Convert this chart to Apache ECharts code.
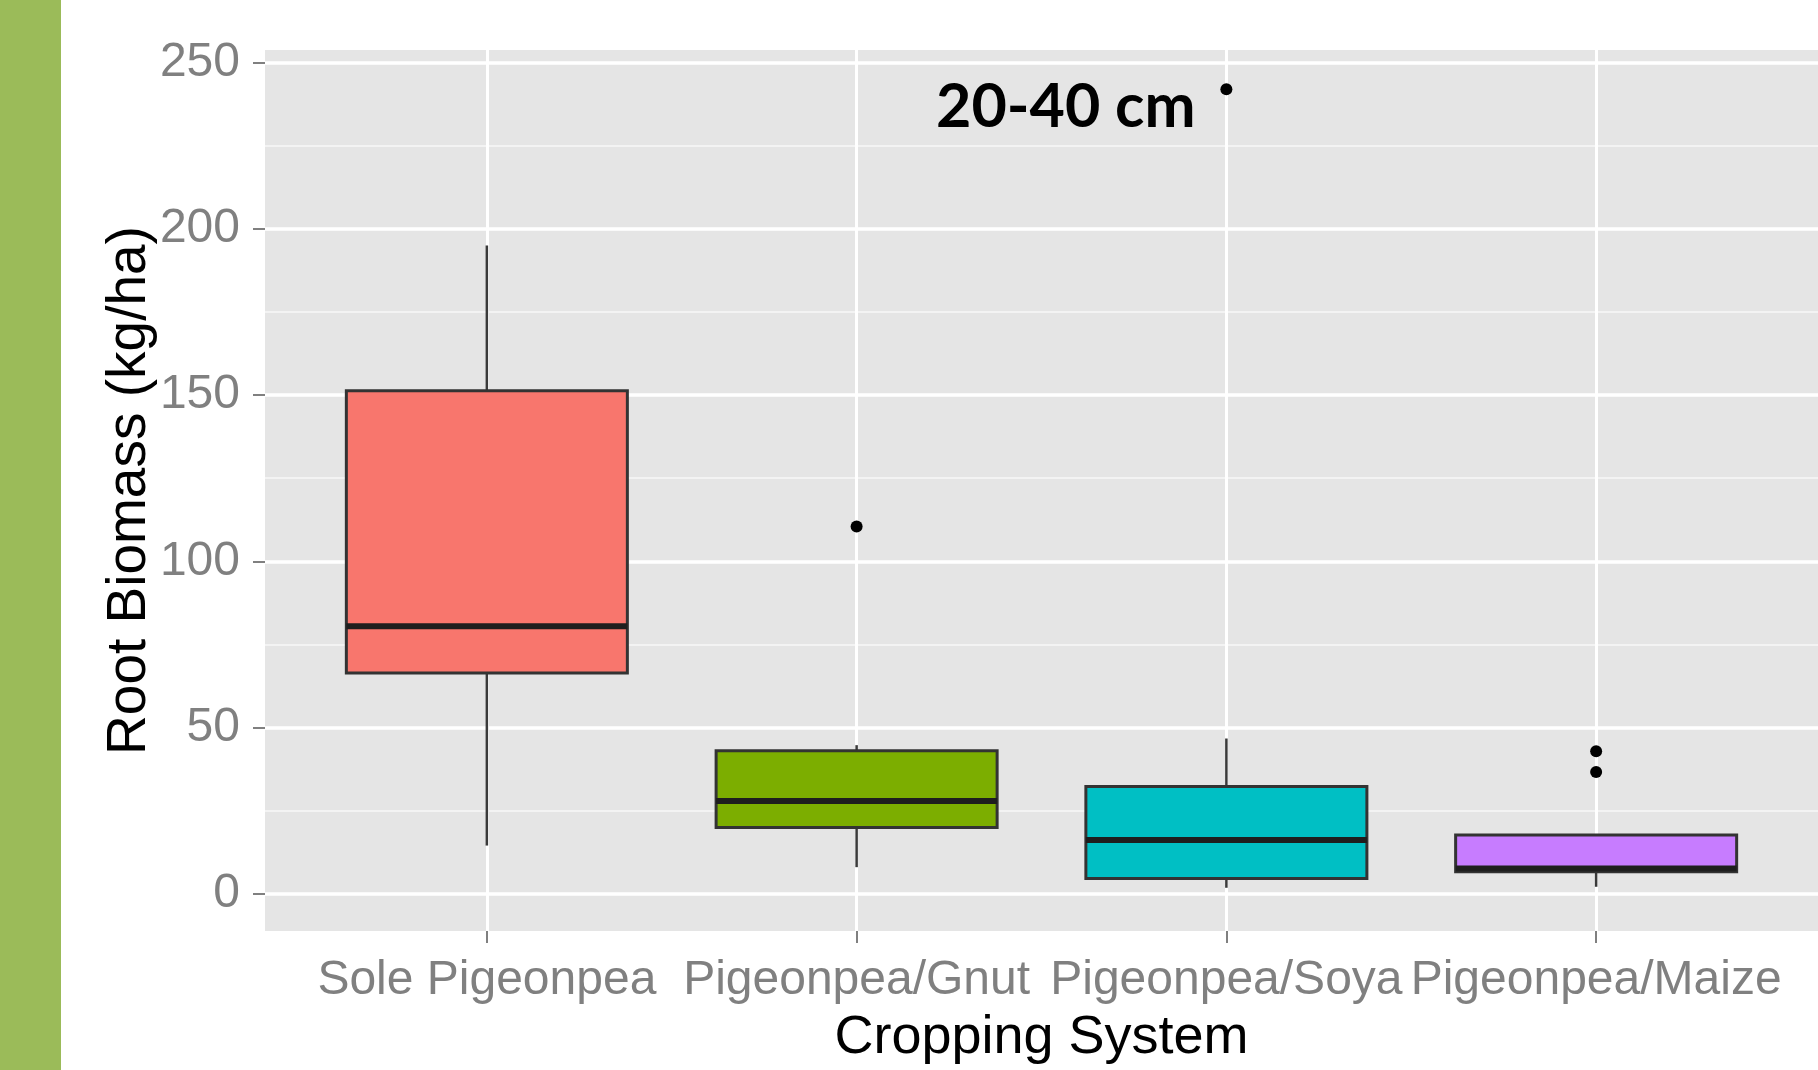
<!DOCTYPE html>
<html><head><meta charset="utf-8">
<script src="https://cdn.jsdelivr.net/npm/echarts@6/dist/echarts.min.js"></script>
<style>html,body{margin:0;padding:0;background:#fff;}#c{width:1818px;height:1070px;}</style>
</head><body><div id="c"></div>
<script>
// ---- data ----
const categories = ['Sole Pigeonpea', 'Pigeonpea/Gnut', 'Pigeonpea/Soya', 'Pigeonpea/Maize'];
const whiskerLow  = [14.5, 8.0, 1.8, 2.1];
const quartile1   = [66.4, 19.9, 4.6, 6.6];
const medians     = [80.5, 27.9, 16.2, 7.6];
const quartile3   = [151.3, 43.0, 32.3, 17.7];
const whiskerHigh = [195.0, 44.7, 46.7, 17.7];
const outlierGroup = [2, 3, 4, 4];
const outlierValue = [110.5, 242.0, 42.9, 36.6];
const yTicks = [0, 50, 100, 150, 200, 250];
const yMinorTicks = [25, 75, 125, 175, 225];
const xTicks = [1, 2, 3, 4];
const fillColors = ['#F8766D', '#7CAE00', '#00BFC4', '#C77CFF'];

const boxData = categories.map((c, i) => [i + 1, whiskerLow[i], quartile1[i], medians[i], quartile3[i], whiskerHigh[i], i]);
const outlierData = outlierGroup.map((g, i) => [g, outlierValue[i]]);

const chart = echarts.init(document.getElementById('c'), null, {renderer: 'canvas'});
const gray = '#808080';

chart.setOption({
  backgroundColor: '#ffffff',
  animation: false,
  title: {
    text: '20-40 cm', left: 931, top: 72,
    textStyle: {fontFamily: 'Lato', fontWeight: 'bold', fontSize: 61, color: '#000'}
  },
  graphic: [{type: 'rect', left: 0, top: 0, shape: {width: 61, height: 1070}, style: {fill: '#9BBB59'}, z: 100}],
  grid: {left: 265, top: 50, width: 1562, bottom: 137.5, show: true, backgroundColor: '#E5E5E5', borderWidth: 0},
  xAxis: {
    type: 'value', min: 0.4, max: 4.6,
    name: 'Cropping System', nameLocation: 'middle', nameGap: 80, nameMoveOverlap: false,
    nameTextStyle: {fontFamily: 'Liberation Sans', fontSize: 54, color: '#000'},
    axisLine: {show: false, onZero: false},
    axisTick: {show: true, customValues: xTicks, length: 12, lineStyle: {color: gray, width: 2}},
    axisLabel: {customValues: xTicks, margin: 26, fontFamily: 'Liberation Sans', fontSize: 48, color: gray,
      formatter: v => categories[Math.round(v) - 1] || ''},
    splitLine: {show: true, lineStyle: {color: '#ffffff', width: 3}}
  },
  yAxis: [{
    type: 'value', min: -11.2, max: 253.8,
    name: 'Root Biomass (kg/ha)', nameLocation: 'middle', nameGap: 108, nameMoveOverlap: false,
    nameTextStyle: {fontFamily: 'Liberation Sans', fontSize: 55, color: '#000'},
    axisLine: {show: false, onZero: false},
    axisTick: {show: true, customValues: yTicks, length: 12, lineStyle: {color: gray, width: 2}},
    axisLabel: {customValues: yTicks, margin: 25, fontFamily: 'Liberation Sans', fontSize: 48, color: gray},
    splitLine: {show: true, lineStyle: {color: '#ffffff', width: 3.5}}
  }, {
    type: 'value', min: -11.2, max: 253.8, position: 'left',
    axisLine: {show: false, onZero: false},
    axisTick: {show: false, customValues: yMinorTicks},
    axisLabel: {show: false, customValues: yMinorTicks},
    splitLine: {show: true, lineStyle: {color: '#F3F3F3', width: 2}}
  }],
  series: [{
    type: 'custom',
    data: boxData,
    encode: {x: 0, y: [1, 2, 3, 4, 5]},
    z: 3,
    renderItem: function (params, api) {
      const x = api.value(0);
      const half = api.size([0.38, 0])[0];
      const pLo = api.coord([x, api.value(1)]);
      const pQ1 = api.coord([x, api.value(2)]);
      const pMed = api.coord([x, api.value(3)]);
      const pQ3 = api.coord([x, api.value(4)]);
      const pHi = api.coord([x, api.value(5)]);
      const fill = fillColors[api.value(6)];
      const line = {stroke: '#3a3a3a', lineWidth: 2.5};
      return {type: 'group', children: [
        {type: 'line', shape: {x1: pHi[0], y1: pHi[1], x2: pQ3[0], y2: pQ3[1]}, style: line},
        {type: 'line', shape: {x1: pLo[0], y1: pLo[1], x2: pQ1[0], y2: pQ1[1]}, style: line},
        {type: 'rect', shape: {x: pQ3[0] - half, y: pQ3[1], width: 2 * half, height: pQ1[1] - pQ3[1]},
          style: {fill: fill, stroke: '#333333', lineWidth: 3}},
        {type: 'line', shape: {x1: pMed[0] - half, y1: pMed[1], x2: pMed[0] + half, y2: pMed[1]},
          style: {stroke: '#1e1e1e', lineWidth: 6}}
      ]};
    }
  }, {
    type: 'scatter',
    data: outlierData,
    symbol: 'circle', symbolSize: 12,
    itemStyle: {color: '#000000', opacity: 1},
    z: 4
  }]
});
</script>
</body></html>
